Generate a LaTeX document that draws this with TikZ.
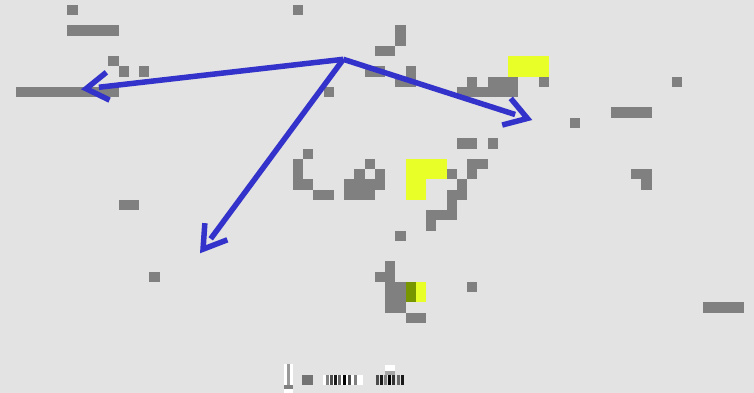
\documentclass[tikz,border=0pt]{standalone}
\usepackage{tikz}
\usetikzlibrary{arrows.meta, decorations.markings}
\definecolor{bgfill}{RGB}{227,227,227}
\definecolor{cellgray}{RGB}{128,128,128}
\definecolor{cellyellow}{RGB}{232,255,40}
\definecolor{cellolive}{RGB}{120,150,0}
\definecolor{flowblue}{RGB}{51,51,204}
\tikzset{
  flow/.style={
    draw=flowblue, line width=5.5pt, shorten >=18pt,
    decoration={markings, mark=at position 1 with {\arrow[line cap=butt]{Straight Barb[length=22pt,width=28pt]}}},
    postaction={decorate}
  },
  mark bar/.style={fill=#1},
  mark bar/.default=gray
}

\begin{document}
\begin{tikzpicture}[x=1pt, y=-1pt]
  \fill[bgfill] (0,0) rectangle (754,393);
  \useasboundingbox (0,0) rectangle (754,393);
  \begin{scope}[shift={(5.75,5)}, x=10.25pt, y=-10.25pt]
    \foreach \a/\b/\j in {6/6/0, 28/28/0, 6/10/2, 38/38/2, 38/38/3, 36/37/4, 10/10/5,
        11/11/6, 13/13/6, 35/36/6, 39/39/6, 38/39/7, 45/45/7, 47/49/7, 52/52/7, 65/65/7,
        1/10/8, 31/31/8, 44/49/8, 59/62/10, 55/55/11, 44/45/13, 47/47/13, 29/29/14,
        28/28/15, 35/35/15, 45/46/15, 28/28/16, 34/34/16, 36/36/16, 43/43/16, 45/45/16, 61/62/16,
        28/29/17, 33/36/17, 44/44/17, 62/62/17, 30/31/18, 33/35/18, 43/44/18,
        11/12/19, 43/43/19, 41/43/20, 41/41/21, 38/38/22, 37/37/25, 14/14/26, 36/37/26,
        37/38/27, 45/45/27, 37/38/28, 37/38/29, 68/71/29, 39/40/30}
      \fill[cellgray] (\a,\j) rectangle (\b+1,\j+1);
    \foreach \a/\b/\j in {49/52/5, 49/52/6, 39/42/15, 39/42/16, 39/40/17, 39/40/18, 40/40/27, 40/40/28}
      \fill[cellyellow] (\a,\j) rectangle (\b+1,\j+1);
    \fill[cellolive] (39,27) rectangle (40,29);
  \end{scope}
  \fill[white] (283.5,364) rectangle (293,393);
  \fill[mark bar=gray!80] (286.5,364) rectangle (290,386);
  \fill[mark bar=gray] (284,385) rectangle (293,389);
  \fill[mark bar=gray!90!black] (302,375) rectangle (313,385);
  \fill[white] (323,375) rectangle (363,385);
  \foreach \x/\s in {326/50, 330/70, 334/90, 338/60, 343/100, 348/70, 354/50}
    \fill[mark bar=black!\s] (\x,375) rectangle ++(2.5,10);
  \fill[white] (385,365) rectangle (395,375);
  \fill[mark bar=gray!70] (385,371) rectangle (395,375);
  \foreach \x/\s in {376/70, 380/90, 384/50, 388/100, 392/80, 397/60, 401/90}
    \fill[mark bar=black!\s] (\x,375) rectangle ++(2.5,10);
  \coordinate (hub) at (343.3,59.3);
  \coordinate (westtip) at (81,89.3);
  \coordinate (easttip) at (532.3,120);
  \coordinate (southtip) at (200,253.3);
  \draw[flow] (hub) -- (westtip);
  \draw[flow] (hub) -- (easttip);
  \draw[flow] (hub) -- (southtip);
\end{tikzpicture}
\end{document}
